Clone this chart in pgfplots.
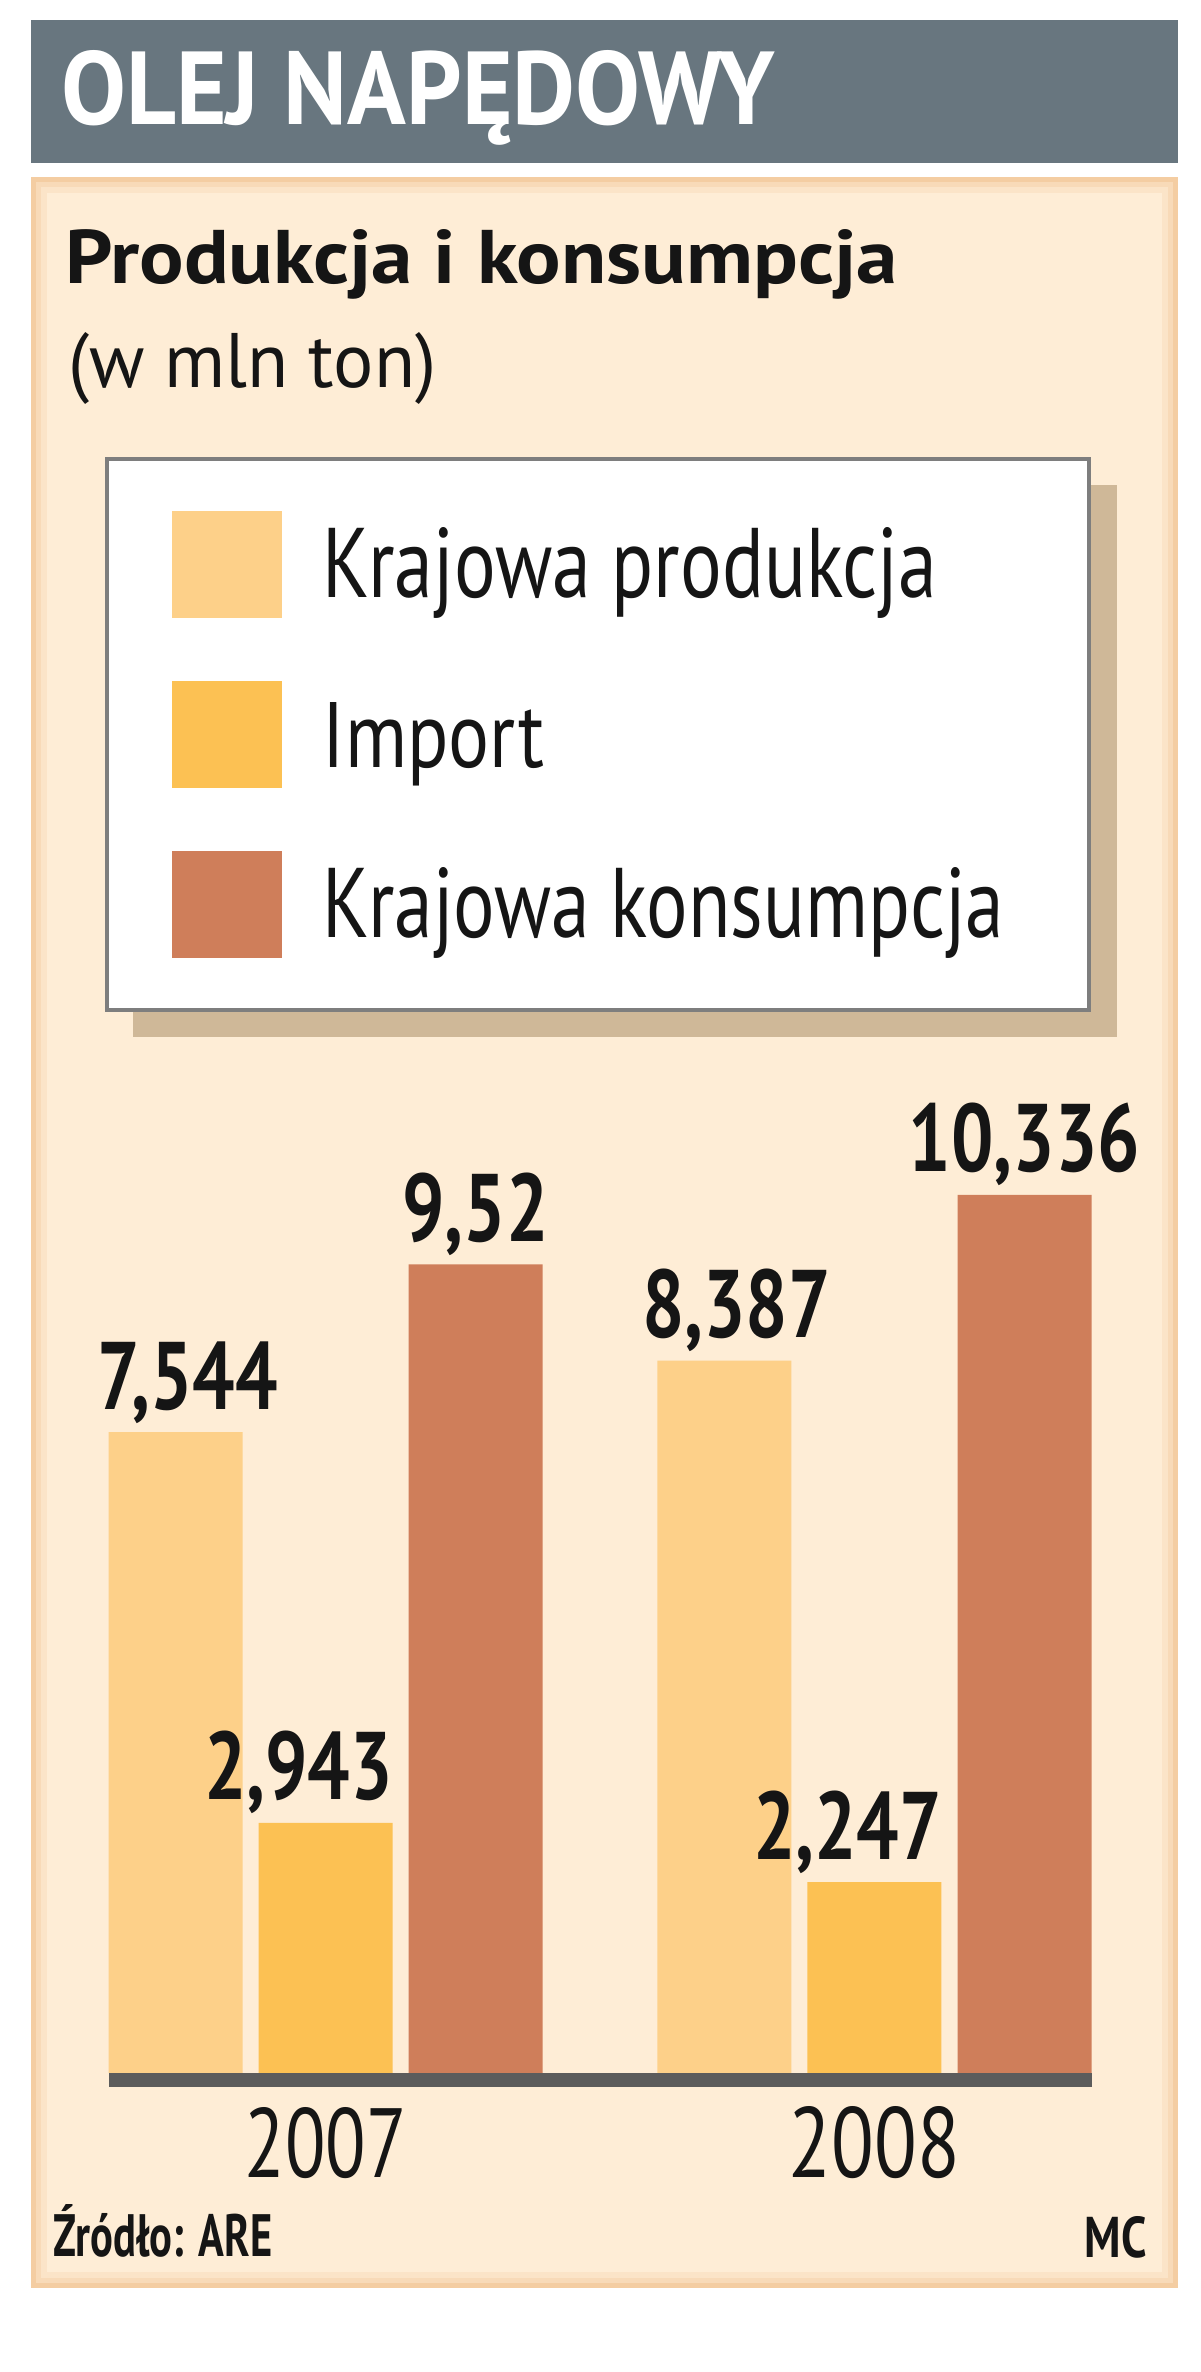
\documentclass[border=0pt]{standalone}
\usepackage{fontspec}
\setmainfont{PT Sans}
\newfontfamily\condfont[FakeStretch=0.78]{PT Sans}
\usepackage{pgfplots}
\pgfplotsset{compat=1.18}
\definecolor{titlebar}{HTML}{68767F}
\definecolor{panel}{HTML}{FEEDD6}
\definecolor{panelA}{HTML}{F4CDA2}
\definecolor{panelB}{HTML}{F8DAB8}
\definecolor{panelC}{HTML}{FBE4C8}
\definecolor{prod}{HTML}{FDD089}
\definecolor{imp}{HTML}{FCC153}
\definecolor{kons}{HTML}{CF7E5A}
\definecolor{axisline}{HTML}{5C5C5C}
\definecolor{legborder}{HTML}{7E7E7E}
\definecolor{legshadow}{HTML}{CFB898}
\definecolor{ink}{HTML}{151515}
\newcommand{\fit}[3]{\resizebox{#1}{#2}{#3}}
\newcommand{\valfont}{\condfont\bfseries\fontsize{96}{100}\selectfont}
\begin{document}
\begin{tikzpicture}[x=1pt,y=1pt]
\useasboundingbox (0,0) rectangle (1200,2372);
\fill[white] (0,0) rectangle (1200,2372);
% title bar
\fill[titlebar] (31,2209) rectangle (1178,2352);
\node[anchor=base west, inner sep=0pt, text=white] at (61,2247) {\fit{714pt}{74pt}{\bfseries OLEJ NAPĘDOWY}};
% panel
\fill[panelA] (31,84) rectangle (1178,2195);
\fill[panelB] (36,89) rectangle (1173,2190);
\fill[panelC] (41,94) rectangle (1168,2185);
\fill[panel] (47,100) rectangle (1162,2179);
% headings
\node[anchor=base west, inner sep=0pt, text=ink] at (65,2088) {\fit{832pt}{54pt}{\bfseries Produkcja i konsumpcja}};
\node[anchor=base west, inner sep=0pt, text=ink] at (68,1984) {\fit{368pt}{55pt}{(w mln ton)}};
% legend shadow
\fill[legshadow] (133,1335) rectangle (1117,1887);
\begin{axis}[
  at={(108.5pt,299pt)}, anchor=south west, scale only axis,
  width=983pt, height=934.45pt,
  xmin=-0.3953, xmax=1.3953, ymin=0, ymax=11,
  ybar, bar width=134pt,
  axis line style={draw=none},
  ytick=\empty, xtick={0,1},
  xticklabels={{\fit{162pt}{70pt}{2007}},{\fit{171pt}{71pt}{2008}}},
  tick style={draw=none},
  xticklabel style={anchor=base, yshift=-100pt, inner sep=0pt, text=ink},
  nodes near coords,
  every node near coord/.append style={anchor=base, yshift=23pt, inner sep=0pt, text=ink, font=\valfont},
  /pgf/number format/use comma,
  /pgf/number format/fixed,
  /pgf/number format/precision=3,
  /pgf/number format/1000 sep={},
  /pgf/number format/assume math mode=true,
  legend style={at={(axis description cs:-0.0036,1.7294)}, anchor=north west,
    draw=legborder, line width=4pt, fill=white,
    inner xsep=65pt, inner ysep=52pt, row sep=63pt, column sep=41pt,
    nodes={inner sep=0pt, text=ink},
    cells={anchor=base west}},
  legend image code/.code={\pgfsetbaseline{0pt}\fill[#1] (0pt,-20pt) rectangle (110pt,87pt);},
]
\addplot[fill=prod, draw=none, bar shift=-150pt,
  every node near coord/.append style={xshift=12pt}]
  coordinates {(0,7.544) (1,8.387)};
\addlegendentry{\makebox[701pt][l]{\fit{614pt}{70pt}{Krajowa produkcja}}}
\addplot[fill=imp, draw=none, bar shift=0pt,
  every node near coord/.append style={xshift=-27pt}]
  coordinates {(0,2.943) (1,2.247)};
\addlegendentry{\makebox[701pt][l]{\fit{221pt}{65pt}{Import}}}
\addplot[fill=kons, draw=none, bar shift=150pt]
  coordinates {(0,9.52) (1,10.336)};
\addlegendentry{\makebox[701pt][l]{\fit{681pt}{70pt}{Krajowa konsumpcja}}}
\end{axis}
\fill[axisline] (108.5,285) rectangle (1091.5,299);
% footer
\node[anchor=base west, inner sep=0pt, text=ink] at (53,115) {\fit{219pt}{52pt}{\bfseries Źródło: ARE}};
\node[anchor=base east, inner sep=0pt, text=ink] at (1147,114) {\fit{62pt}{41pt}{\bfseries MC}};
\end{tikzpicture}
\end{document}
